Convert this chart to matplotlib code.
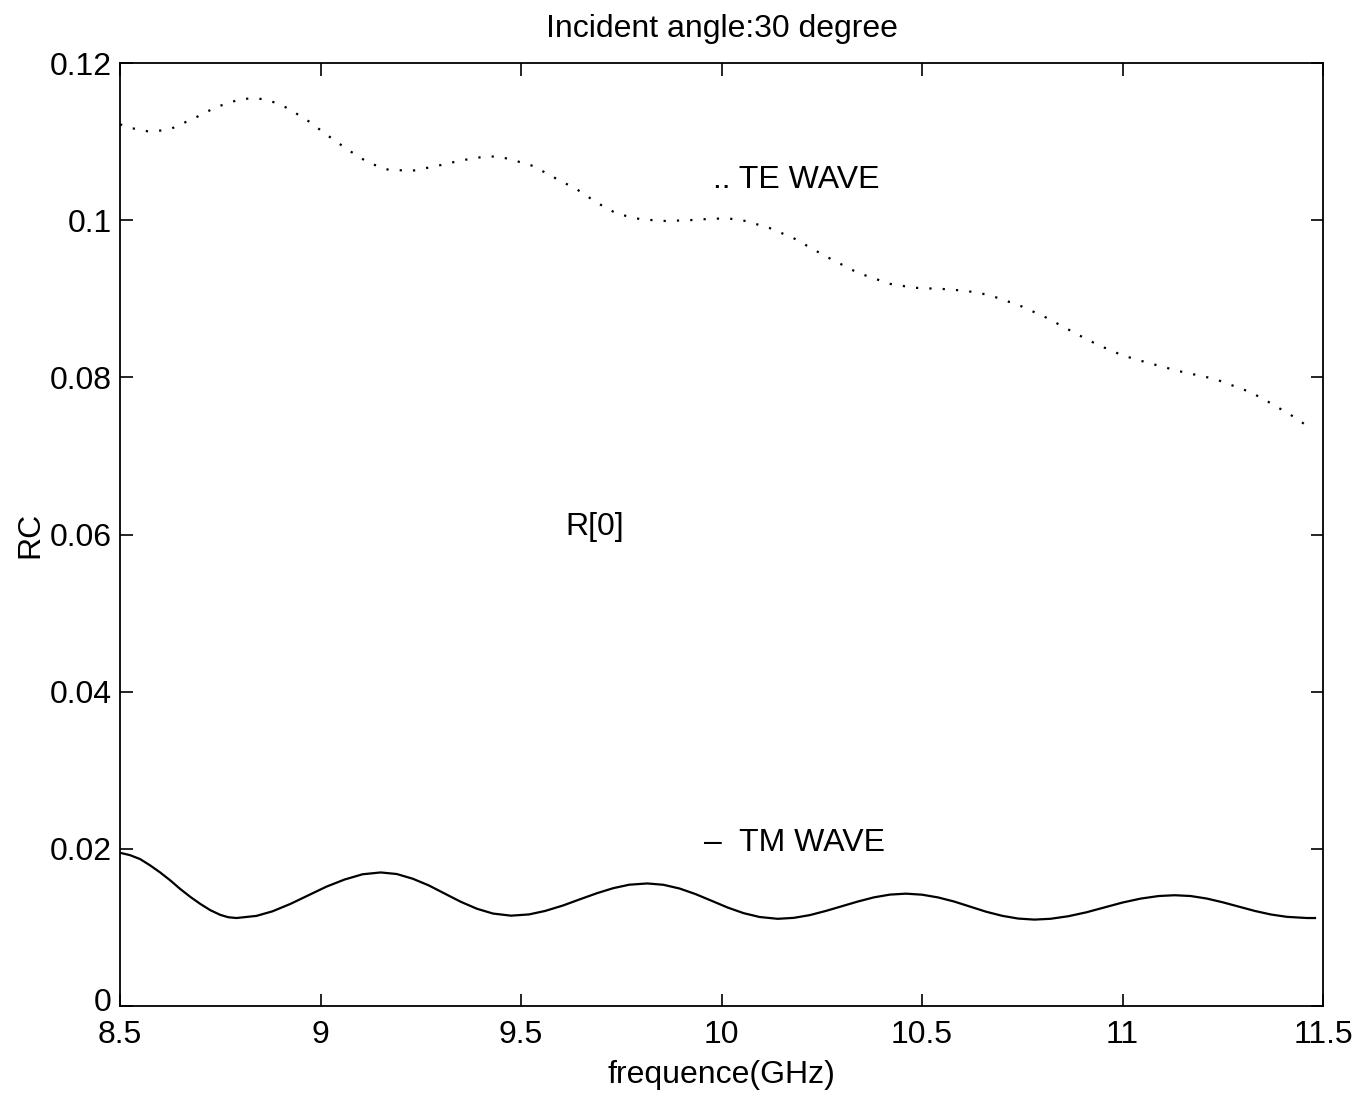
import matplotlib
matplotlib.use("Agg")
import matplotlib.pyplot as plt
from matplotlib.transforms import ScaledTranslation

plt.rcParams['font.family'] = ['Liberation Sans', 'DejaVu Sans']

# TE wave (dotted)
te_freq = [8.50, 8.53, 8.57, 8.60, 8.63, 8.66, 8.69, 8.74, 8.80, 8.83, 8.86, 8.89,
           8.92, 8.97, 9.02, 9.07, 9.12, 9.17, 9.23, 9.29, 9.35, 9.41, 9.44, 9.47,
           9.53, 9.58, 9.64, 9.69, 9.74, 9.80, 9.86, 9.92, 9.98, 10.02, 10.06, 10.12,
           10.18, 10.26, 10.34, 10.42, 10.48, 10.57, 10.64, 10.69, 10.75, 10.81, 10.89,
           10.94, 11.00, 11.06, 11.14, 11.23, 11.32, 11.37, 11.42, 11.47]
te_rc = [0.1122, 0.1117, 0.1113, 0.1114, 0.1117, 0.1124, 0.1131, 0.1144, 0.1154, 0.1155,
         0.1154, 0.1149, 0.1142, 0.1126, 0.1107, 0.1089, 0.1073, 0.1064, 0.1063, 0.1069,
         0.1076, 0.1081, 0.1081, 0.1078, 0.1069, 0.1055, 0.1039, 0.1022, 0.1008, 0.1001,
         0.0999, 0.1000, 0.1002, 0.1002, 0.0999, 0.0990, 0.0977, 0.0954, 0.0933, 0.0919,
         0.0914, 0.0912, 0.0908, 0.0901, 0.0890, 0.0876, 0.0854, 0.0841, 0.0828, 0.0819,
         0.0808, 0.0798, 0.0781, 0.0767, 0.0752, 0.0735]

# TM wave (solid)
tm_freq = [8.50, 8.525, 8.55, 8.575, 8.60, 8.625, 8.65, 8.675, 8.70, 8.725, 8.75, 8.77, 8.79,
           8.84, 8.88, 8.925, 8.97, 9.015, 9.06, 9.105, 9.15,
           9.19, 9.23, 9.27, 9.31, 9.35, 9.39, 9.43, 9.475,
           9.52, 9.56, 9.605, 9.645, 9.69, 9.73, 9.77, 9.815,
           9.855, 9.895, 9.935, 9.975, 10.015, 10.055, 10.095, 10.14,
           10.18, 10.22, 10.26, 10.30, 10.34, 10.38, 10.42, 10.46,
           10.50, 10.54, 10.58, 10.62, 10.66, 10.70, 10.74, 10.78,
           10.82, 10.865, 10.91, 10.955, 11.00, 11.045, 11.09, 11.13,
           11.17, 11.21, 11.25, 11.29, 11.33, 11.37, 11.41, 11.46, 11.48]
tm_rc = [0.0195, 0.0192, 0.0187, 0.0179, 0.0170, 0.0160, 0.0149, 0.0139, 0.0130, 0.0122, 0.0116, 0.0113, 0.0112,
         0.01147, 0.01205, 0.0130, 0.0141, 0.0152, 0.0161, 0.01677, 0.0170,
         0.0168, 0.0162, 0.01535, 0.0143, 0.01326, 0.01238, 0.01177, 0.0115,
         0.01166, 0.0121, 0.0128, 0.01355, 0.01437, 0.0150, 0.01544, 0.0156,
         0.01543, 0.01496, 0.01425, 0.0134, 0.01254, 0.01182, 0.01133, 0.0111,
         0.01122, 0.01157, 0.0121, 0.0127, 0.0133, 0.01383, 0.01418, 0.0143,
         0.01417, 0.01382, 0.0133, 0.01265, 0.0120, 0.01148, 0.01113, 0.0110,
         0.0111, 0.01143, 0.01193, 0.01255, 0.01317, 0.01367, 0.0140, 0.0141,
         0.0140, 0.01368, 0.0132, 0.01265, 0.0121, 0.01165, 0.01135, 0.0112, 0.0112]

x_ticks = [8.5, 9, 9.5, 10, 10.5, 11, 11.5]
x_ticklabels = ['8.5', '9', '9.5', '10', '10.5', '11', '11.5']
y_ticks = [0, 0.02, 0.04, 0.06, 0.08, 0.1, 0.12]
y_ticklabels = ['0', '0.02', '0.04', '0.06', '0.08', '0.1', '0.12']

FS = 23

fig = plt.figure(figsize=(13.72, 10.94), dpi=100)
ax = fig.add_axes([0.0875, 0.0804, 0.8768, 0.862])

ax.plot(te_freq, te_rc, color='black', linestyle=(0, (1, 5)), linewidth=1.6)
ax.plot(tm_freq, tm_rc, color='black', linestyle='-', linewidth=1.6,
        solid_joinstyle='round')

ax.set_xlim(8.5, 11.5)
ax.set_ylim(0, 0.12)
ax.set_xticks(x_ticks)
ax.set_xticklabels(x_ticklabels)
ax.set_yticks(y_ticks)
ax.set_yticklabels(y_ticklabels)
ax.tick_params(direction='in', length=9, width=1.2, top=True, right=True,
               labelsize=FS, colors='black')
ax.tick_params(axis='x', pad=10)
ax.tick_params(axis='y', pad=6)
for s in ax.spines.values():
    s.set_linewidth(1.3)

# nudge the "0" y label up slightly so it does not collide with "8.5"
zero_lbl = ax.get_yticklabels()[0]
zero_lbl.set_transform(zero_lbl.get_transform() +
                       ScaledTranslation(0, 5 / 72, fig.dpi_scale_trans))

ax.set_title('Incident angle:30 degree', fontsize=FS, pad=19)
ax.set_xlabel('frequence(GHz)', fontsize=FS, labelpad=7)
ax.set_ylabel('RC', fontsize=FS, labelpad=3)

ax.text(9.978, 0.1051, '.. TE WAVE', fontsize=FS, va='center', ha='left')
ax.text(9.61, 0.0610, 'R[0]', fontsize=FS, va='center', ha='left')
ax.text(9.956, 0.0207, '\u2013  TM WAVE', fontsize=FS, va='center', ha='left')

fig.savefig('out.png', dpi=100, facecolor='white')
